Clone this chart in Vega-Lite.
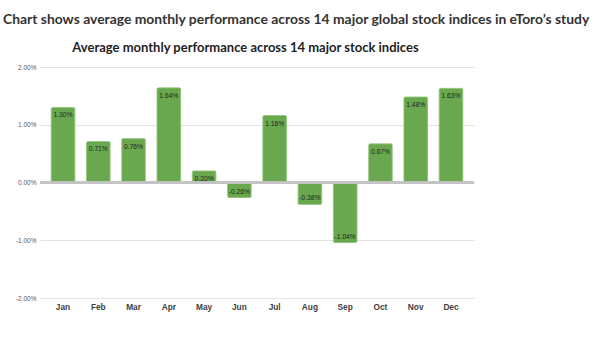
{
  "$schema": "https://vega.github.io/schema/vega-lite/v6.json",
  "autosize": "none",
  "width": 434,
  "height": 231,
  "padding": {"left": 40, "top": 67, "right": 126, "bottom": 40},
  "background": "white",
  "title": {
    "text": "Chart shows average monthly performance across 14 major global stock indices in eToro’s study",
    "anchor": "start",
    "frame": "group",
    "dx": -37,
    "offset": 14,
    "font": "Lato",
    "fontSize": 13.9,
    "fontWeight": "bold",
    "color": "#333333"
  },
  "config": {"view": {"stroke": null}},
  "data": {
    "values": [
      {"month": "Jan", "value": 0.0130},
      {"month": "Feb", "value": 0.0071},
      {"month": "Mar", "value": 0.0076},
      {"month": "Apr", "value": 0.0164},
      {"month": "May", "value": 0.0020},
      {"month": "Jun", "value": -0.0026},
      {"month": "Jul", "value": 0.0116},
      {"month": "Aug", "value": -0.0038},
      {"month": "Sep", "value": -0.0104},
      {"month": "Oct", "value": 0.0067},
      {"month": "Nov", "value": 0.0148},
      {"month": "Dec", "value": 0.0163}
    ]
  },
  "transform": [{"calculate": "replace(format(datum.value, '.2%'), '\u2212', '-')", "as": "label"}],
  "resolve": {"axis": {"x": "independent"}},
  "layer": [
    {
      "mark": {"type": "bar", "color": "#6aa84f", "stroke": "#86bd6a", "strokeWidth": 0.8, "cornerRadius": 1.5},
      "encoding": {
        "x": {
          "field": "month", "type": "ordinal", "sort": null,
          "scale": {"paddingInner": 0.33, "paddingOuter": 0.3175},
          "axis": {"orient": "bottom", "title": null, "domain": false, "ticks": false, "labelAngle": 0, "labelPadding": 4, "labelFont": "Liberation Sans", "labelFontSize": 8.3, "labelFontWeight": "bold", "labelColor": "#404040"}
        },
        "y": {
          "field": "value", "type": "quantitative",
          "scale": {"domain": [-0.02, 0.02], "nice": false},
          "axis": {"title": null, "values": [-0.02, -0.01, 0, 0.01, 0.02], "format": ".2%", "labelExpr": "replace(datum.label, '\u2212', '-')", "domain": false, "ticks": false, "labelPadding": 4, "labelFont": "Liberation Sans", "labelFontSize": 6.5, "labelColor": "#595959", "gridColor": "#e3e3e3", "gridWidth": 1}
        }
      }
    },
    {
      "mark": {"type": "rule", "color": "#c4c4c4", "strokeWidth": 1.5},
      "encoding": {"y": {"datum": 0, "type": "quantitative"}}
    },
    {
      "transform": [{"filter": "datum.value >= 0"}],
      "mark": {"type": "text", "baseline": "top", "dy": 5, "font": "Liberation Sans", "fontSize": 6.7, "color": "#1f1f1f"},
      "encoding": {
        "x": {
          "field": "month", "type": "ordinal", "sort": null,
          "axis": {"orient": "top", "labels": false, "ticks": false, "domain": false, "grid": false, "title": "Average monthly performance across 14 major stock indices", "titleFont": "Lato", "titleFontSize": 13, "titleFontWeight": "bold", "titleColor": "#1f1f1f", "titleX": 205, "titleY": -16, "titleBaseline": "alphabetic"}
        },
        "y": {"field": "value", "type": "quantitative"},
        "text": {"field": "label", "type": "nominal"}
      }
    },
    {
      "transform": [{"filter": "datum.value < 0"}],
      "mark": {"type": "text", "baseline": "bottom", "dy": -3, "font": "Liberation Sans", "fontSize": 6.7, "color": "#1f1f1f"},
      "encoding": {
        "x": {"field": "month", "type": "ordinal", "sort": null, "axis": null},
        "y": {"field": "value", "type": "quantitative"},
        "text": {"field": "label", "type": "nominal"}
      }
    }
  ]
}
